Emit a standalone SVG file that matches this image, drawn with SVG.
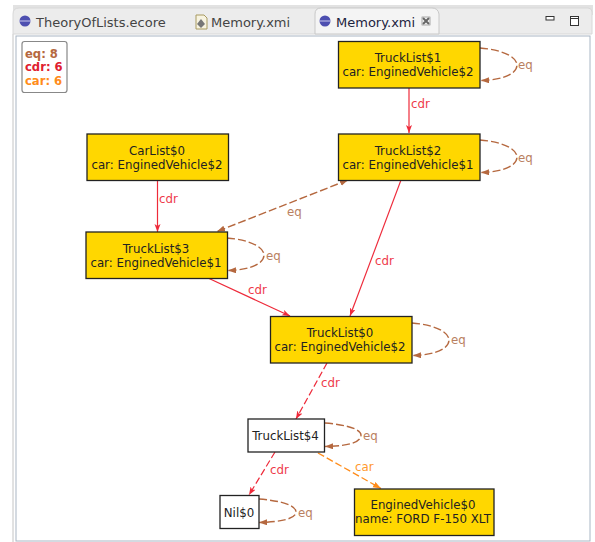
<svg xmlns="http://www.w3.org/2000/svg" width="595" height="542" viewBox="0 0 595 542">
<defs>
<marker id="ar" markerUnits="userSpaceOnUse" markerWidth="10" markerHeight="8" refX="8" refY="3" orient="auto"><path d="M0,0L8,3L0,6L2,3Z" fill="#ee2a3a"/></marker>
<marker id="ab" markerUnits="userSpaceOnUse" markerWidth="10" markerHeight="8" refX="8" refY="3" orient="auto"><path d="M0,0L8,3L0,6Z" fill="#b5683f"/></marker>
<marker id="abs" markerUnits="userSpaceOnUse" markerWidth="10" markerHeight="8" refX="8" refY="3" orient="auto-start-reverse"><path d="M0,0L8,3L0,6Z" fill="#b5683f"/></marker>
<marker id="ao" markerUnits="userSpaceOnUse" markerWidth="10" markerHeight="8" refX="8" refY="3" orient="auto"><path d="M0,0L8,3L0,6Z" fill="#ff8c1a"/></marker>
</defs>
<style>
text{font-family:"DejaVu Sans",sans-serif;font-size:11.8px}
.n rect{fill:#ffd700;stroke:#222;stroke-width:1.3}
.w rect{fill:#fff;stroke:#222;stroke-width:1.3}
.n text,.w text{fill:#222;text-anchor:middle}
.r{fill:none;stroke:#ee2a3a;stroke-width:1.2}
.rd{stroke-dasharray:7 3}
.b{fill:none;stroke:#b5683f;stroke-width:1.4;stroke-dasharray:8 3}
.o{fill:none;stroke:#ff8c1a;stroke-width:1.3;stroke-dasharray:7 3}
.lr{fill:#ee3a4a}.lb{fill:#b98060}.lo{fill:#ff9a30}
.tab{font-size:13px;fill:#444}
.leg{font-size:11.6px;font-weight:bold}
</style>
<rect width="595" height="542" fill="#fff"/>
<g id="chrome">
<rect x="13" y="5" width="580" height="10" fill="#e2e2e2"/>
<path d="M13,542V14Q13,8 19,8H588Q592,8 592,12V34H13Z" fill="#ececec" stroke="#d8d8d8"/>
<path d="M315,34V14Q315,8 321,8H432Q438,8 439,14V34Z" fill="#f4f4f4" stroke="#c8c8c8"/>
<rect x="16" y="36" width="574" height="505" fill="#fff" stroke="#a9b6c4" stroke-width="1"/>
<circle cx="25" cy="21" r="5.500" fill="#4d4fb0"/><path d="M19.500,21H30.500" stroke="#c9c9ee"/>
<text class="tab" x="36" y="26.500">TheoryOfLists.ecore</text>
<path d="M196,15h8l3,3v11h-11Z" fill="#f7f3e0" stroke="#a89a60"/><path d="M201,19l4,5l-4,4l-4,-4Z" fill="#777"/>
<text class="tab" x="211" y="26.500">Memory.xmi</text>
<circle cx="325" cy="21" r="5.500" fill="#4d4fb0"/><path d="M319.500,21H330.500" stroke="#c9c9ee"/>
<text class="tab" x="336" y="26.500" style="fill:#1c2340">Memory.xmi</text>
<path d="M423,18l6,6M429,18l-6,6" stroke="#666" stroke-width="2"/><rect x="422" y="17" width="8" height="8" fill="none" stroke="#888" stroke-width=".7"/>
<rect x="546" y="16.500" width="8" height="3.500" fill="#fff" stroke="#333"/>
<rect x="570.500" y="16.500" width="8" height="9" fill="#fff" stroke="#333"/><path d="M570.500,18.500h8" stroke="#333"/>
</g>
<g id="legend">
<rect x="22" y="41.500" width="45" height="51" rx="2.500" fill="#fff" stroke="#888" stroke-width="1.200"/>
<text class="leg" x="25" y="57.500" fill="#b5683f">eq: 8</text>
<text class="leg" x="25" y="71" fill="#e0202f">cdr: 6</text>
<text class="leg" x="25" y="85" fill="#ff8c1a">car: 6</text>
</g>
<g id="connectors">
<path class="r" d="M409,88V133" marker-end="url(#ar)"/>
<path class="r" d="M157.500,180.500V232" marker-end="url(#ar)"/>
<path class="r" d="M401,180L350,316" marker-end="url(#ar)"/>
<path class="r" d="M208,278L290,316" marker-end="url(#ar)"/>
<path class="r rd" d="M327,363L296,419" marker-end="url(#ar)"/>
<path class="r rd" d="M275,452L249,495" marker-end="url(#ar)"/>
<path class="o" d="M318,453L381,488.500" marker-end="url(#ao)"/>
<path class="b" d="M348,180L217,231.500" marker-start="url(#abs)" marker-end="url(#ab)"/>
<path class="b" d="M480,48C505,50 517,58 517,65C517,73 505,80 481,80.500" marker-end="url(#ab)"/>
<path class="b" d="M480,140C505,142 517,150 517,157C517,165 505,172 481,172.500" marker-end="url(#ab)"/>
<path class="b" d="M227,238C252,240 264,248 264,255C264,263 252,270 228,270.500" marker-end="url(#ab)"/>
<path class="b" d="M412,323C437,325 449,333 449,340C449,348 437,355 413,355.500" marker-end="url(#ab)"/>
<path class="b" d="M325,423C350,425 361,430 361,435C361,442 350,446 325,446.500" marker-end="url(#ab)"/>
<path class="b" d="M259,499C284,501 296,506 296,512C296,518 284,522 259,522.500" marker-end="url(#ab)"/>
<text class="lr" x="411" y="108">cdr</text>
<text class="lr" x="159" y="203">cdr</text>
<text class="lr" x="375" y="265">cdr</text>
<text class="lr" x="248" y="294">cdr</text>
<text class="lr" x="321" y="387">cdr</text>
<text class="lr" x="270" y="474">cdr</text>
<text class="lo" x="355" y="471">car</text>
<text class="lb" x="287" y="216">eq</text>
<text class="lb" x="518" y="69">eq</text>
<text class="lb" x="518" y="162">eq</text>
<text class="lb" x="266" y="260">eq</text>
<text class="lb" x="451" y="344">eq</text>
<text class="lb" x="363" y="440">eq</text>
<text class="lb" x="298" y="517">eq</text>
</g>
<g id="TruckList1" class="n"><rect x="338.500" y="41.500" width="141.500" height="46.500"/><text x="408" y="62">TruckList$1</text><text x="408" y="76">car: EnginedVehicle$2</text></g>
<g id="TruckList2" class="n"><rect x="338.500" y="134" width="141.500" height="46.500"/><text x="408" y="154.500">TruckList$2</text><text x="408" y="168.500">car: EnginedVehicle$1</text></g>
<g id="CarList0" class="n"><rect x="87" y="134" width="141.500" height="46.500"/><text x="157" y="154.500">CarList$0</text><text x="157" y="168.500">car: EnginedVehicle$2</text></g>
<g id="TruckList3" class="n"><rect x="86" y="232" width="141.500" height="46.500"/><text x="156" y="252.500">TruckList$3</text><text x="156" y="266.500">car: EnginedVehicle$1</text></g>
<g id="TruckList0" class="n"><rect x="270.500" y="316.500" width="141.500" height="46.500"/><text x="340" y="336.500">TruckList$0</text><text x="340" y="350.500">car: EnginedVehicle$2</text></g>
<g id="TruckList4" class="w"><rect x="248" y="419" width="76.500" height="33"/><text x="285.500" y="440">TruckList$4</text></g>
<g id="Nil0" class="w"><rect x="220" y="495.500" width="39" height="33"/><text x="239" y="517">Nil$0</text></g>
<g id="EnginedVehicle0" class="n"><rect x="354.500" y="489" width="139.500" height="46.500"/><text x="423" y="509">EnginedVehicle$0</text><text x="423" y="523">name: FORD F-150 XLT</text></g>
</svg>
